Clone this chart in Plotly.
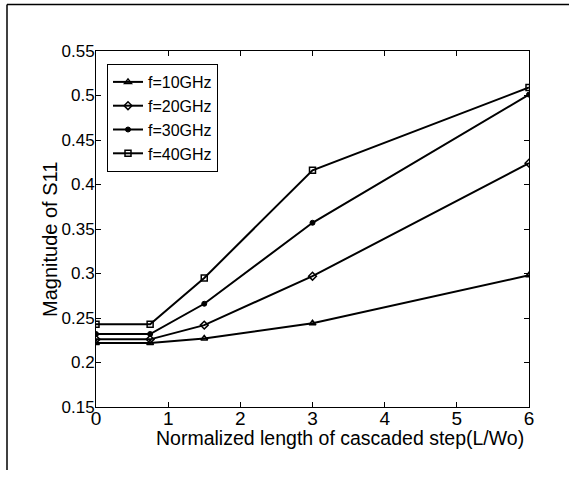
import plotly.graph_objects as go

x_vals = [0, 0.75, 1.5, 3, 6]
s11_10ghz = [0.222, 0.222, 0.227, 0.244, 0.298]
s11_20ghz = [0.226, 0.226, 0.242, 0.297, 0.424]
s11_30ghz = [0.232, 0.232, 0.266, 0.357, 0.501]
s11_40ghz = [0.243, 0.243, 0.295, 0.416, 0.509]
series_names = ["f=10GHz", "f=20GHz", "f=30GHz", "f=40GHz"]
x_ticks = [0, 1, 2, 3, 4, 5, 6]
y_ticks = [0.15, 0.2, 0.25, 0.3, 0.35, 0.4, 0.45, 0.5, 0.55]
y_tick_text = ["0.15", "0.2", "0.25", "0.3", "0.35", "0.4", "0.45", "0.5", "0.55"]

W, H = 569, 478
L, R, T, B = 96, 40, 51, 71
pw, ph = W - L - R, H - T - B

def px2paper_x(px):
    return (px - L) / pw

def px2paper_y(py):
    return (H - B - py) / ph

FONT = "Liberation Sans, Arial, sans-serif"

fig = go.Figure()
styles = [
    dict(symbol="triangle-up-open", size=6, color="black", line=dict(width=1.5, color="black")),
    dict(symbol="diamond-open", size=6, color="black", line=dict(width=1.5, color="black")),
    dict(symbol="circle", size=5, color="black", line=dict(width=1, color="black")),
    dict(symbol="square-open", size=6, color="black", line=dict(width=1.5, color="black")),
]
for name, ys, mk in zip(series_names, [s11_10ghz, s11_20ghz, s11_30ghz, s11_40ghz], styles):
    fig.add_trace(go.Scatter(x=x_vals, y=ys, mode="lines+markers", name=name,
                             line=dict(color="black", width=2), marker=mk))

axis_common = dict(showgrid=False, zeroline=False, showline=True, linecolor="black",
                   linewidth=1, mirror="ticks", ticks="inside", ticklen=5,
                   tickcolor="black", tickwidth=1)

fig.update_layout(
    width=W, height=H,
    margin=dict(l=L, r=R, t=T, b=B),
    paper_bgcolor="white", plot_bgcolor="white",
    font=dict(family=FONT, color="black"),
    xaxis=dict(range=[0, 6], tickvals=x_ticks, tickfont=dict(size=19),
               ticklabelstandoff=-6, **axis_common),
    yaxis=dict(range=[0.15, 0.55], tickvals=y_ticks, ticktext=y_tick_text,
               tickfont=dict(size=17), ticklabelstandoff=-3, **axis_common),
    showlegend=True,
    legend=dict(x=px2paper_x(107), y=px2paper_y(64), xanchor="left", yanchor="top",
                bgcolor="white", bordercolor="black", borderwidth=1,
                font=dict(size=16, family=FONT), itemwidth=30,
                tracegroupgap=0),
    annotations=[
        dict(text="Normalized length of cascaded step(L/Wo)", xref="paper", yref="paper",
             x=px2paper_x(340), y=px2paper_y(438), xanchor="center", yanchor="middle",
             showarrow=False, font=dict(size=19.5, family=FONT)),
        dict(text="Magnitude of S11", xref="paper", yref="paper",
             x=px2paper_x(50), y=px2paper_y(240), xanchor="center", yanchor="middle",
             textangle=-90, showarrow=False, font=dict(size=20, family=FONT)),
    ],
    shapes=[
        dict(type="line", xref="paper", yref="paper", x0=px2paper_x(7), x1=px2paper_x(569),
             y0=px2paper_y(4.5), y1=px2paper_y(4.5), line=dict(color="black", width=1.5)),
        dict(type="line", xref="paper", yref="paper", x0=px2paper_x(7), x1=px2paper_x(7),
             y0=px2paper_y(4.5), y1=px2paper_y(470), line=dict(color="black", width=1.5)),
    ],
)

fig.write_html("out.html")
